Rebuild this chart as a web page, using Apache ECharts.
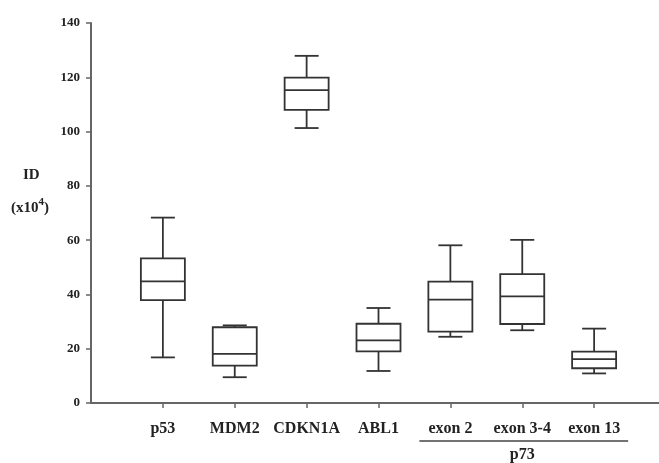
<!DOCTYPE html>
<html>
<head>
<meta charset="utf-8">
<script src="https://cdn.jsdelivr.net/npm/echarts@6/dist/echarts.min.js"></script>
<style>
  html, body { margin: 0; padding: 0; background: #fff; }
  #chart { width: 659px; height: 463px; }
</style>
</head>
<body>
<div id="chart"></div>
<script>
// Gene labels along the x axis
const categories = ['p53', 'MDM2', 'CDKN1A', 'ABL1', 'exon 2', 'exon 3-4', 'exon 13'];
// Five-number summaries (x10^4): min, Q1, median, Q3, max
const minValues    = [16.8,  9.5, 101.3, 11.8, 24.4, 26.8, 10.9];
const q1Values     = [37.9, 13.8, 108.0, 19.0, 26.3, 29.1, 12.8];
const medianValues = [44.8, 18.1, 115.3, 23.1, 38.1, 39.3, 16.2];
const q3Values     = [53.3, 27.9, 119.9, 29.2, 44.7, 47.5, 18.9];
const maxValues    = [68.3, 28.6, 127.9, 35.0, 58.1, 60.1, 27.4];
// Y axis ticks
const yTicks = [0, 20, 40, 60, 80, 100, 120, 140];
// p73 probes grouped under a bracket
const p73Group = ['exon 2', 'exon 3-4', 'exon 13'];

const FONT = "'Liberation Serif', 'Times New Roman', serif";
const INK = '#333';

// Pad the category axis with an empty slot on each side
const axisCats = [' '].concat(categories, ['  ']);
const boxData = categories.map((c, i) => [
  i + 1, minValues[i], q1Values[i], medianValues[i], q3Values[i], maxValues[i]
]);

const chart = echarts.init(document.getElementById('chart'), null, { renderer: 'canvas' });

function renderBox(params, api) {
  const x = api.value(0);
  const pMin = api.coord([x, api.value(1)]);
  const pQ1 = api.coord([x, api.value(2)]);
  const pMed = api.coord([x, api.value(3)]);
  const pQ3 = api.coord([x, api.value(4)]);
  const pMax = api.coord([x, api.value(5)]);
  const cx = pMed[0];
  const hw = 22;   // half box width
  const cw = 12;   // half cap width
  const style = { stroke: INK, lineWidth: 1.8, fill: null };
  const line = (x1, y1, x2, y2) => ({ type: 'line', shape: { x1, y1, x2, y2 }, style });
  return {
    type: 'group',
    children: [
      { type: 'rect', shape: { x: cx - hw, y: pQ3[1], width: hw * 2, height: pQ1[1] - pQ3[1] }, style },
      line(cx - hw, pMed[1], cx + hw, pMed[1]),
      line(cx, pQ3[1], cx, pMax[1]),
      line(cx, pQ1[1], cx, pMin[1]),
      line(cx - cw, pMax[1], cx + cw, pMax[1]),
      line(cx - cw, pMin[1], cx + cw, pMin[1])
    ]
  };
}

chart.setOption({
  backgroundColor: '#fff',
  animation: false,
  grid: { left: 91, top: 23, width: 575, height: 380, containLabel: false, outerBoundsMode: 'none' },
  xAxis: {
    type: 'category',
    data: axisCats,
    boundaryGap: false,
    axisLine: { lineStyle: { color: '#666', width: 2 } },
    axisTick: {
      length: 5,
      lineStyle: { color: '#666', width: 1.5 },
      interval: (idx) => idx > 0 && idx < axisCats.length - 1
    },
    axisLabel: {
      interval: 0,
      margin: 18,
      fontFamily: FONT,
      fontWeight: 'bold',
      fontSize: 16,
      color: '#222'
    },
    splitLine: { show: false }
  },
  yAxis: {
    type: 'value',
    min: yTicks[0],
    max: yTicks[yTicks.length - 1],
    interval: yTicks[1] - yTicks[0],
    axisLine: { show: true, lineStyle: { color: '#666', width: 2 } },
    axisTick: { show: true, length: 5, lineStyle: { color: '#666', width: 1.5 } },
    axisLabel: {
      margin: 11,
      fontFamily: FONT,
      fontWeight: 'bold',
      fontSize: 13,
      color: '#222'
    },
    splitLine: { show: false }
  },
  series: [{
    type: 'custom',
    renderItem: renderBox,
    encode: { x: 0, y: [1, 2, 3, 4, 5] },
    data: boxData,
    clip: false
  }]
});

// Axis title and the p73 bracket, placed from the axis scale
const firstX = chart.convertToPixel({ xAxisIndex: 0 }, axisCats.indexOf(p73Group[0]));
const lastX = chart.convertToPixel({ xAxisIndex: 0 }, axisCats.indexOf(p73Group[p73Group.length - 1]));
const bracketY = 441;
chart.setOption({
  graphic: [
    {
      type: 'text',
      left: 23, top: 168,
      style: { text: 'ID', font: `bold 15px ${FONT}`, fill: '#222' }
    },
    {
      type: 'text',
      left: 11, top: 197,
      style: {
        text: '(x10{s|4})',
        font: `bold 15px ${FONT}`,
        fill: '#222',
        rich: { s: { fontSize: 11, fontWeight: 'bold', fontFamily: FONT, verticalAlign: 'top', padding: [0, 0, 12, 0] } }
      }
    },
    {
      type: 'line',
      shape: { x1: firstX - 31, y1: bracketY, x2: lastX + 34, y2: bracketY },
      style: { stroke: '#444', lineWidth: 1.5 }
    },
    {
      type: 'text',
      x: (firstX + lastX) / 2, y: 455,
      style: { text: 'p73', font: `bold 16px ${FONT}`, fill: '#222', align: 'center', verticalAlign: 'middle' }
    }
  ]
});
</script>
</body>
</html>
